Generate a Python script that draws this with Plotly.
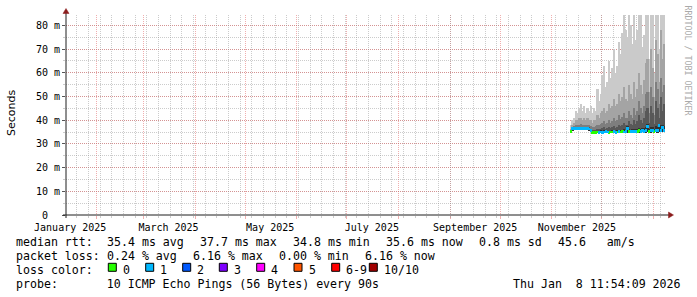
import plotly.graph_objects as go
import pandas as pd

# ---------------- data ----------------
range_start = "2025-01-13 11:54:09"
range_end = "2026-01-08 11:54:09"
first_sample_day = "2025-11-12 12:00"

x_label_dates = ["2025-01-16", "2025-03-16", "2025-05-16",
                 "2025-07-16", "2025-09-16", "2025-11-16"]
x_label_text = ["January 2025", "March 2025", "May 2025",
                "July 2025", "September 2025", "November 2025"]

y_tick_vals = [0, 10, 20, 30, 40, 50, 60, 70, 80]
y_tick_text = ["0  ", "10 m", "20 m", "30 m", "40 m", "50 m", "60 m", "70 m", "80 m"]

# round-trip times in ms, one value per day
low_ms = [34.8, 35.6, 35.8, 35.8, 35.7, 35.8, 35.8, 35.7, 35.8, 35.7,
          35.8, 35.6, 35.0, 34.3, 34.2, 34.3, 34.4, 34.3, 34.4, 34.3,
          34.4, 34.5, 34.4, 34.3, 34.4, 34.4, 34.5, 34.3, 34.4, 34.5,
          34.4, 34.6, 34.4, 34.6, 34.7, 34.5, 34.4, 34.6, 34.5, 34.7,
          34.6, 34.8, 34.6, 34.9, 34.7, 34.8, 35.0, 34.7, 34.8, 34.9,
          34.7, 35.0, 34.8, 35.1, 34.9, 35.1, 34.9]
max_ms = [38, 40, 41, 44, 43, 45, 47, 44, 46, 43,
          45, 44, 46, 43, 45, 44, 53, 48, 51, 59,
          63, 54, 56, 65, 58, 62, 70, 60, 63, 73,
          68, 77, 92, 78, 75, 95, 80, 72, 90, 74,
          78, 95, 90, 71, 76, 95, 92, 66, 95, 88,
          60, 95, 95, 70, 95, 92, 95]
p9_ms = [36.5, 38, 39, 40, 40, 41, 41, 40, 41, 40,
         41, 40, 40, 39, 40, 40, 42, 41, 43, 44,
         45, 43, 44, 47, 45, 46, 49, 46, 47, 51,
         48, 50, 54, 49, 48, 55, 51, 49, 56, 50,
         53, 60, 55, 51, 57, 64, 66, 52, 70, 62,
         50, 74, 68, 56, 78, 66, 72]
p8_ms = [36, 37, 37.5, 38, 38, 38, 38.5, 38, 38, 38,
         38, 38, 37.5, 37, 37, 37.5, 38, 37.8, 38.5, 39,
         39.5, 38.5, 39, 40, 39, 39.5, 41, 39.5, 40, 42,
         40.5, 41.5, 43, 41, 41, 44, 42, 41, 45, 42,
         44, 48, 45, 43, 46, 51, 52, 43, 54, 50,
         42, 56, 53, 47, 58, 52, 55]
p7_ms = [35.8, 36.8, 37, 37, 37, 37, 37.3, 37, 37, 37,
         37, 37, 36.3, 35.8, 35.8, 36, 36.3, 36.1, 36.5, 36.8,
         37, 36.5, 36.7, 37.2, 36.7, 37, 37.6, 36.9, 37.2, 38,
         37.4, 38, 39, 37.8, 38, 39.5, 38.5, 38, 40, 38.5,
         39.5, 42, 40, 39, 41, 44, 45, 39, 46, 43,
         38.5, 48, 45, 41, 50, 44, 47]
p6_ms = [35.6, 36.8, 36.9, 36.9, 36.8, 36.9, 37.0, 36.8, 36.9, 36.8,
         36.9, 36.7, 36.0, 35.3, 35.2, 35.4, 35.6, 35.4, 35.7, 35.6,
         35.8, 35.7, 35.6, 35.5, 35.6, 35.7, 35.9, 35.5, 35.7, 36.0,
         35.7, 36.0, 36.2, 36.0, 37.4, 36.1, 35.9, 36.2, 36.3, 36.4,
         36.2, 36.8, 36.4, 36.9, 36.6, 37.0, 38.2, 36.5, 37.2, 37.0,
         36.4, 37.6, 37.3, 38.6, 37.8, 38.0, 37.5]
median_ms = [35.3, 36.4, 36.5, 36.5, 36.4, 36.5, 36.5, 36.4, 36.5, 36.4,
             36.5, 36.3, 35.6, 34.9, 34.8, 34.9, 35.0, 34.9, 35.0, 34.9,
             35.0, 35.1, 35.0, 34.9, 35.0, 35.0, 35.1, 34.9, 35.0, 35.1,
             35.0, 35.2, 35.0, 35.3, 36.6, 35.2, 35.1, 35.3, 35.2, 35.4,
             35.3, 35.5, 35.3, 35.6, 35.4, 35.5, 37.2, 35.4, 35.5, 35.6,
             35.4, 35.7, 35.5, 37.7, 35.6, 36.9, 35.6]
# loss colour class of the median per day (index into loss_colors)
loss_class = [0, 1, 1, 1, 1, 1, 1, 1, 1, 1,
              1, 1, 1, 0, 0, 0, 0, 1, 1, 1,
              1, 1, 1, 0, 0, 0, 1, 1, 0, 1,
              0, 0, 1, 1, 1, 0, 1, 1, 1, 1,
              0, 0, 1, 1, 1, 1, 1, 0, 1, 1,
              0, 1, 1, 1, 1, 1, 1]

loss_labels = ["0", "1", "2", "3", "4", "5", "6-9", "10/10"]
loss_colors = ["#26ff00", "#00b8ff", "#0059ff", "#7e00ff",
               "#ff00ff", "#ff5500", "#ff0000", "#a10000"]

stat_line1 = ["median rtt:", "35.4 ms avg", "37.7 ms max", "34.8 ms min",
              "35.6 ms now", "0.8 ms sd", "45.6   am/s"]
stat_line2 = ["packet loss:", "0.24 % avg", "6.16 % max", "0.00 % min", "6.16 % now"]
probe_text = "probe:       10 ICMP Echo Pings (56 Bytes) every 90s"
stamp_text = "Thu Jan  8 11:54:09 2026"
watermark = "RRDTOOL / TOBI OETIKER"

# ---------------- styling / layout ----------------
W, H = 697, 297
PL, PR, PT, PB = 66, 666, 15, 215
PW, PH = PR - PL, PB - PT
MONO = "DejaVu Sans Mono"
DAY_MS = 86400000
MED_HALF = 0.6
smoke_colors = ["#cacaca", "#a4a4a4", "#7e7e7e", "#585858", "#323232"]
MGRID = "rgba(222,80,80,0.46)"
GRID = "rgba(143,143,143,0.46)"
AXIS = "#1f1f1f"
ARROW = "#8b1c1c"


def fx(px):
    return (px - PL) / PW


def fy(py):
    return (PB - py) / PH


days = pd.date_range(first_sample_day, periods=len(median_ms), freq="D")

fig = go.Figure()

# smoke: outer (min..max) lightest, inner pairs darker
for top, col in zip([max_ms, p9_ms, p8_ms, p7_ms, p6_ms], smoke_colors):
    fig.add_trace(go.Bar(
        x=days, base=low_ms, y=[t - b for t, b in zip(top, low_ms)],
        width=DAY_MS, marker=dict(color=col, line=dict(width=0)),
        hoverinfo="skip", showlegend=False))

# median band coloured by loss
for k, col in enumerate(loss_colors):
    ys = [2 * MED_HALF if c == k else None for c in loss_class]
    if all(v is None for v in ys):
        continue
    fig.add_trace(go.Bar(
        x=days, base=[m - MED_HALF for m in median_ms], y=ys,
        width=DAY_MS, marker=dict(color=col, line=dict(width=0)),
        hoverinfo="skip", showlegend=False))

# helper trace for the weekly grid axis
fig.add_trace(go.Scatter(x=[range_start], y=[None], xaxis="x2", yaxis="y",
                         mode="markers", showlegend=False, hoverinfo="skip"))

fig.update_layout(
    width=W, height=H, autosize=False,
    margin=dict(l=PL, r=W - PR, t=PT, b=H - PB, pad=0),
    paper_bgcolor="white", plot_bgcolor="white",
    barmode="overlay", bargap=0, showlegend=False,
    xaxis=dict(
        type="date", range=[range_start, range_end],
        tickmode="array", tickvals=x_label_dates, ticktext=x_label_text,
        ticks="", showgrid=False, zeroline=False, showline=False,
        tickfont=dict(family=MONO, size=10, color="black"),
        ticklabelstandoff=5,
        minor=dict(tick0="2025-01-01", dtick="M1", showgrid=True,
                   gridcolor=MGRID, griddash="1px,1px", gridwidth=1,
                   ticks="outside", ticklen=3, tickcolor=MGRID),
    ),
    xaxis2=dict(
        type="date", range=[range_start, range_end], overlaying="x",
        anchor="y", side="bottom",
        tick0="2025-01-13", dtick=7 * DAY_MS,
        showticklabels=False, showgrid=True, gridcolor=GRID,
        griddash="1px,1px", gridwidth=1, zeroline=False, showline=False,
        ticks="outside", ticklen=2, tickcolor=GRID,
    ),
    yaxis=dict(
        range=[0, 84.4], tickmode="array", tickvals=y_tick_vals,
        ticktext=[t.replace(" ", "\u00a0") for t in y_tick_text],
        showgrid=True, gridcolor=MGRID, griddash="1px,1px", gridwidth=1,
        zeroline=False, showline=False,
        ticks="outside", ticklen=3, tickcolor="#555555",
        tickfont=dict(family=MONO, size=10, color="black"),
        minor=dict(dtick=5, showgrid=True, gridcolor=GRID,
                   griddash="1px,1px", gridwidth=1,
                   ticks="outside", ticklen=2, tickcolor=GRID),
    ),
)

shapes = []
# axis lines
shapes.append(dict(type="line", xref="paper", yref="paper",
                   x0=fx(63), x1=fx(670), y0=fy(215), y1=fy(215),
                   line=dict(color=AXIS, width=1)))
shapes.append(dict(type="line", xref="paper", yref="paper",
                   x0=fx(66), x1=fx(66), y0=fy(218), y1=fy(12),
                   line=dict(color=AXIS, width=1)))
# arrows
shapes.append(dict(type="path", xref="paper", yref="paper",
                   path=f"M{fx(63)},{fy(13.5)} L{fx(69)},{fy(13.5)} L{fx(66)},{fy(8.5)} Z",
                   fillcolor=ARROW, line=dict(color=ARROW, width=0.5)))
shapes.append(dict(type="path", xref="paper", yref="paper",
                   path=f"M{fx(668.5)},{fy(212)} L{fx(668.5)},{fy(218)} L{fx(673.5)},{fy(215)} Z",
                   fillcolor=ARROW, line=dict(color=ARROW, width=0.5)))

# legend colour boxes
box_x = [108.3, 145.7, 182.7, 219.3, 256.7, 294.0, 331.7, 369.3]
for bx, col in zip(box_x, loss_colors):
    shapes.append(dict(type="rect", xref="paper", yref="paper",
                       x0=fx(bx), x1=fx(bx + 8), y0=fy(263.3), y1=fy(271.3),
                       fillcolor=col, line=dict(color="black", width=1)))
fig.update_layout(shapes=shapes)


def note(px, py, text, size=11.6, family=MONO, xanchor="left",
         color="black", angle=0):
    fig.add_annotation(x=fx(px), y=fy(py), xref="paper", yref="paper",
                       text=text.replace(" ", "\u00a0"), showarrow=False,
                       xanchor=xanchor, yanchor="middle", textangle=angle,
                       borderpad=0, borderwidth=0,
                       font=dict(family=family, size=size, color=color))


line_mid = [241.5, 255.5, 269.5, 283.5]
x1_pos = [16, 107, 200, 293, 386, 479, 558.1]
for px, t in zip(x1_pos, stat_line1):
    note(px, line_mid[0], t)
x2_pos = [16, 107, 193, 279, 365]
for px, t in zip(x2_pos, stat_line2):
    note(px, line_mid[1], t)
note(16, line_mid[2], "loss color:")
for bx, lab in zip(box_x, loss_labels):
    note(bx + 14.5, line_mid[2], lab)
note(16, line_mid[3], probe_text)
note(681, line_mid[3], stamp_text, xanchor="right")

note(11.5, 113.5, "Seconds", size=11, family="DejaVu Sans", xanchor="center", angle=-90)
note(687.5, 60, watermark, size=8.3, xanchor="center", color="#aaaaaa", angle=90)

fig.write_html("out.html")
